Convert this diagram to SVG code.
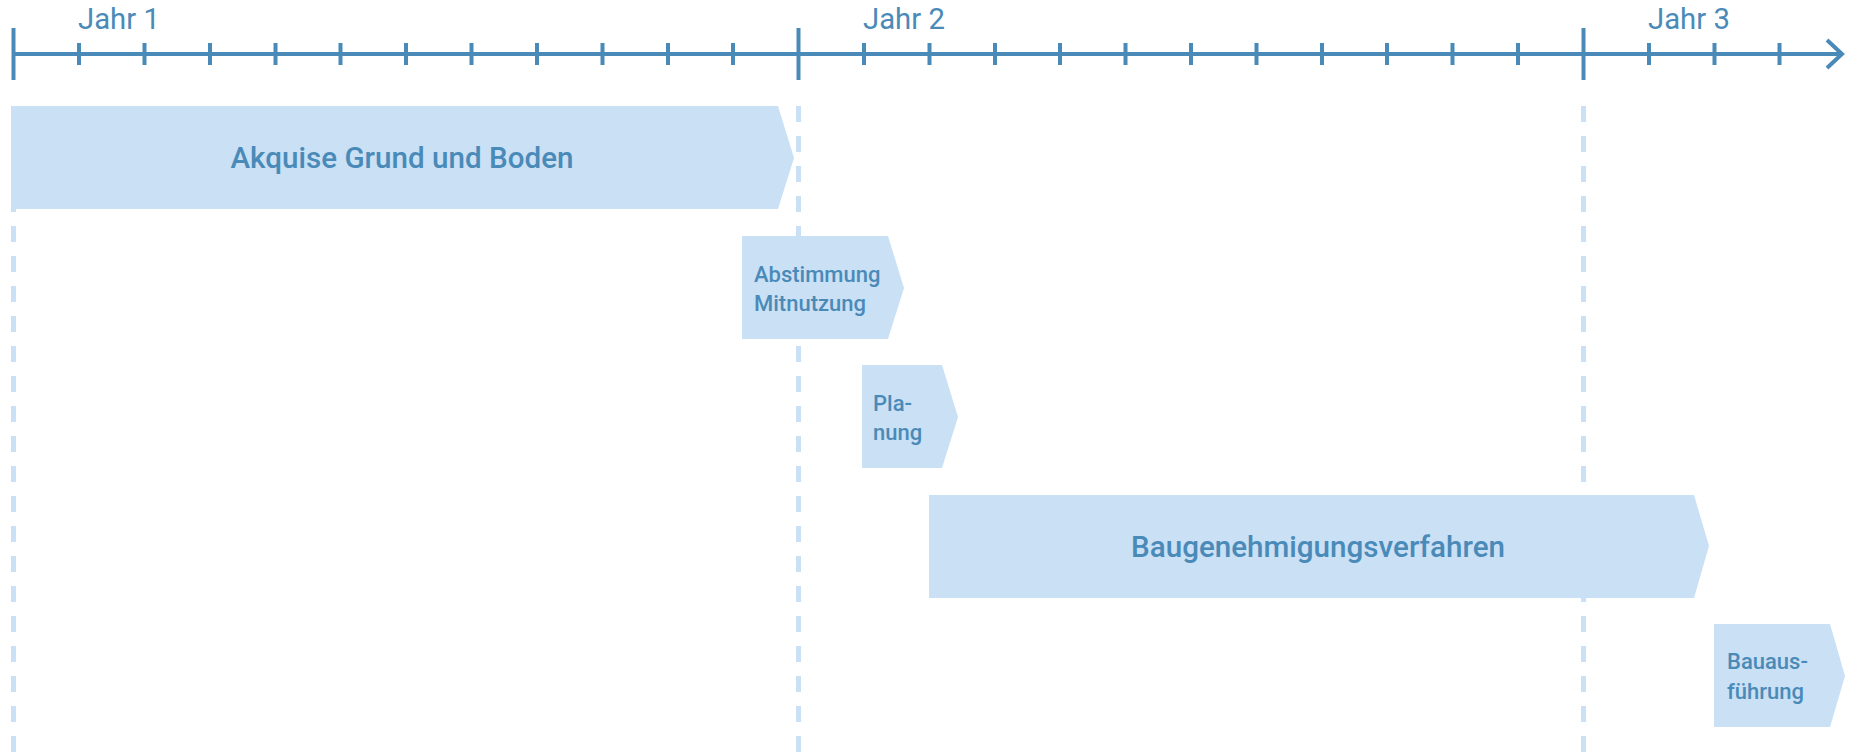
<svg xmlns="http://www.w3.org/2000/svg" width="1850" height="755" viewBox="0 0 1850 755">
<style>
.axis{stroke:#4a8ab8;stroke-width:4;fill:none}
.grid{stroke:#c9e0f5;stroke-width:5;stroke-dasharray:16 14;fill:none}
.bar{fill:#c9e0f5}
.yr{font-family:Roboto,"Liberation Sans",sans-serif;font-size:29.3px;fill:#4a8ab8}
.lbl{font-family:Roboto,"Liberation Sans",sans-serif;font-weight:500;fill:#4a8ab8}
.big{font-size:29.6px}
.small{font-size:22px}
</style>
<rect width="1850" height="755" fill="#ffffff"/>
<g id="grid">
<line class="grid" x1="13.5" y1="106" x2="13.5" y2="755"/>
<line class="grid" x1="798.5" y1="106" x2="798.5" y2="755"/>
<line class="grid" x1="1583.5" y1="106" x2="1583.5" y2="755"/>
</g>
<g id="axis">
<line class="axis" x1="13" y1="54" x2="1842" y2="54"/>
<polyline class="axis" points="1827,40 1842,54 1827,68"/>
<line class="axis" x1="13.5" y1="28" x2="13.5" y2="80"/>
<line class="axis" x1="798.5" y1="28" x2="798.5" y2="80"/>
<line class="axis" x1="1583.5" y1="28" x2="1583.5" y2="80"/>
<path class="axis" d="M79,43V65M144.5,43V65M210,43V65M275.5,43V65M340.5,43V65M406,43V65M471.5,43V65M537,43V65M602.5,43V65M668,43V65M733,43V65M864,43V65M929.5,43V65M995,43V65M1060,43V65M1125.5,43V65M1191,43V65M1256.5,43V65M1322,43V65M1387,43V65M1452.5,43V65M1518,43V65M1649,43V65M1714.5,43V65M1779.5,43V65"/>
<text class="yr" x="78" y="29">Jahr 1</text>
<text class="yr" x="863" y="29">Jahr 2</text>
<text class="yr" x="1648" y="29">Jahr 3</text>
</g>
<g id="akquise">
<polygon class="bar" points="11,106 778,106 794,158 778,209 11,209"/>
<text class="lbl big" x="402" y="168" text-anchor="middle">Akquise Grund und Boden</text>
</g>
<g id="abstimmung">
<polygon class="bar" points="742,236 888,236 904,288 888,339 742,339"/>
<text class="lbl small" x="754" y="282">Abstimmung</text>
<text class="lbl small" x="754" y="311">Mitnutzung</text>
</g>
<g id="planung">
<polygon class="bar" points="862,365 942,365 958,417 942,468 862,468"/>
<text class="lbl small" x="873" y="411">Pla-</text>
<text class="lbl small" x="873" y="440">nung</text>
</g>
<g id="baugenehmigung">
<polygon class="bar" points="929,495 1694,495 1709,546 1694,598 929,598"/>
<text class="lbl big" x="1318" y="557" text-anchor="middle">Baugenehmigungsverfahren</text>
</g>
<g id="bauausfuehrung">
<polygon class="bar" points="1714,624 1830,624 1845,676 1830,727 1714,727"/>
<text class="lbl small" x="1727" y="669">Bauaus-</text>
<text class="lbl small" x="1727" y="699">führung</text>
</g>
</svg>
